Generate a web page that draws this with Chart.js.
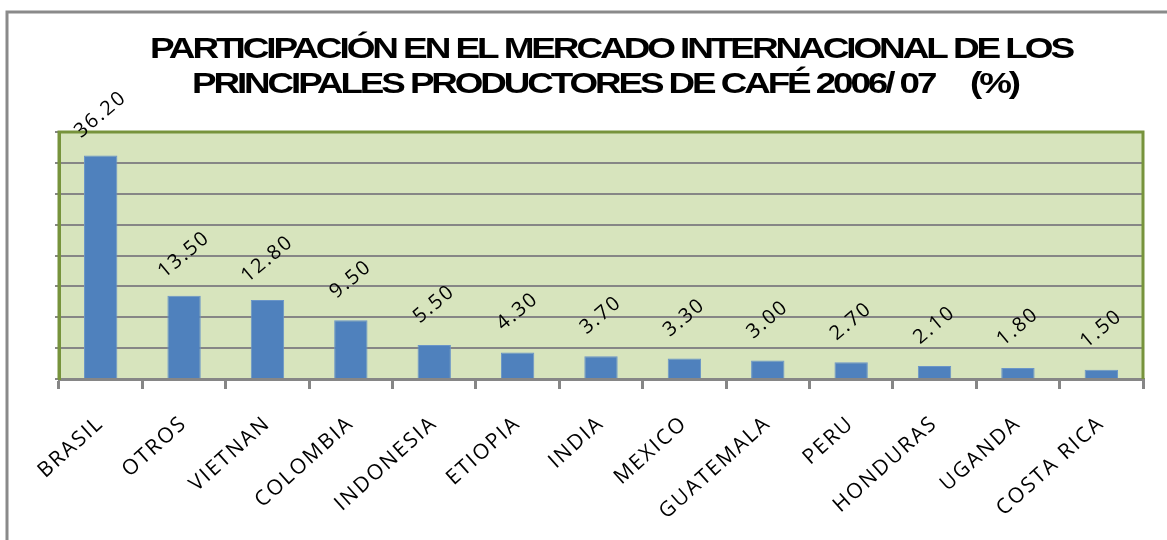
<!DOCTYPE html>
<html>
<head>
<meta charset="utf-8">
<script src="https://cdn.jsdelivr.net/npm/chart.js@4/dist/chart.umd.min.js"></script>
<style>
  body { margin: 0; background: #fff; }
  #wrap { width: 1167px; height: 540px; }
</style>
</head>
<body>
<div id="wrap"><canvas id="coffeeChart" width="1167" height="540"></canvas></div>
<script>
// data
var categories = ['BRASIL', 'OTROS', 'VIETNAN', 'COLOMBIA', 'INDONESIA', 'ETIOPIA', 'INDIA',
  'MEXICO', 'GUATEMALA', 'PERU', 'HONDURAS', 'UGANDA', 'COSTA RICA'];
var shares = [36.20, 13.50, 12.80, 9.50, 5.50, 4.30, 3.70, 3.30, 3.00, 2.70, 2.10, 1.80, 1.50];
var titleLines = ['PARTICIPACIÓN EN EL MERCADO INTERNACIONAL DE LOS',
  'PRINCIPALES PRODUCTORES DE CAFÉ 2006/ 07     (%)'];

var GREEN = '#77933C';
var GRAY = '#868686';

// frame + plot background
var background = {
  id: 'background',
  beforeDraw: function(chart) {
    var ctx = chart.ctx, a = chart.chartArea;
    ctx.save();
    ctx.fillStyle = '#fff';
    ctx.fillRect(0, 0, chart.width, chart.height);
    ctx.strokeStyle = '#8a8a8a';
    ctx.lineWidth = 3;
    ctx.beginPath();
    ctx.moveTo(7, chart.height + 5);
    ctx.lineTo(7, 12);
    ctx.lineTo(chart.width + 5, 12);
    ctx.stroke();
    ctx.fillStyle = '#D7E4BD';
    ctx.fillRect(a.left, a.top, a.right - a.left, a.bottom - a.top);
    ctx.restore();
    ctx.letterSpacing = '2px';
  },
  beforeLayout: function(chart) {
    chart.ctx.letterSpacing = '2px';
  }
};

// green border on top/right of plot area
var plotBorder = {
  id: 'plotBorder',
  afterDatasetsDraw: function(chart) {
    var ctx = chart.ctx, a = chart.chartArea;
    ctx.save();
    ctx.strokeStyle = GREEN;
    ctx.lineWidth = 3;
    ctx.beginPath();
    ctx.moveTo(a.left, a.bottom);
    ctx.lineTo(a.left, a.top);
    ctx.lineTo(a.right, a.top);
    ctx.lineTo(a.right, a.bottom);
    ctx.stroke();
    ctx.restore();
  }
};

// rotated value labels above the bars
var valueLabels = {
  id: 'valueLabels',
  afterDatasetsDraw: function(chart) {
    var ctx = chart.ctx;
    var meta = chart.getDatasetMeta(0);
    meta.data.forEach(function(bar, i) {
      ctx.save();
      ctx.translate(bar.x, bar.y - 41);
      ctx.rotate(-40 * Math.PI / 180);
      ctx.font = '20px "Open Sans"';
      ctx.letterSpacing = '2px';
      ctx.fillStyle = '#000';
      ctx.textAlign = 'center';
      ctx.textBaseline = 'middle';
      ctx.fillText(shares[i].toFixed(2), 0, 0);
      ctx.restore();
    });
  }
};

// two-line bold title, squeezed/stretched to fit like the original
var titleText = {
  id: 'titleText',
  afterDraw: function(chart) {
    var ctx = chart.ctx;
    var spans = [[150, 1072, 58], [192, 1018, 93]];
    ctx.save();
    ctx.letterSpacing = '-2.5px';
    ctx.font = 'bold 30px "Liberation Sans"';
    ctx.fillStyle = '#000';
    ctx.textAlign = 'left';
    ctx.textBaseline = 'alphabetic';
    titleLines.forEach(function(line, i) {
      var s = spans[i];
      var w = ctx.measureText(line).width;
      ctx.save();
      ctx.translate(s[0], s[2]);
      ctx.scale((s[1] - s[0]) / w, 1);
      ctx.fillText(line, 0, 0);
      ctx.restore();
    });
    ctx.restore();
  }
};

var ctx = document.getElementById('coffeeChart');
var coffeeChart = new Chart(ctx, {
  type: 'bar',
  data: {
    labels: categories,
    datasets: [
      {
        data: shares,
        backgroundColor: '#4F81BD',
        borderColor: '#6a95c8',
        borderWidth: 1,
        categoryPercentage: 1.0,
        barPercentage: 0.4
      }
    ]
  },
  options: {
    responsive: false,
    animation: false,
    devicePixelRatio: 1,
    layout: { padding: { top: 132, right: 24, left: 0, bottom: 0 } },
    plugins: {
      legend: { display: false },
      title: { display: false },
      tooltip: { enabled: false }
    },
    scales: {
      x: {
        afterFit: function(scale) { scale.height = 161; },
        border: { color: GRAY, width: 3 },
        grid: {
          display: true,
          drawOnChartArea: false,
          drawTicks: true,
          tickLength: 10,
          color: GRAY,
          lineWidth: 3,
          offset: true
        },
        ticks: {
          autoSkip: false,
          minRotation: 42,
          maxRotation: 42,
          padding: 22,
          color: '#000',
          font: { family: '"Open Sans"', size: 21 }
        }
      },
      y: {
        min: 0,
        max: 40,
        afterFit: function(scale) { scale.width = 59; },
        border: { color: GREEN, width: 3 },
        grid: {
          color: GRAY,
          lineWidth: 2,
          drawTicks: true,
          tickLength: 4
        },
        ticks: {
          stepSize: 5,
          display: false
        }
      }
    }
  },
  plugins: [background, plotBorder, valueLabels, titleText]
});
</script>
</body>
</html>
